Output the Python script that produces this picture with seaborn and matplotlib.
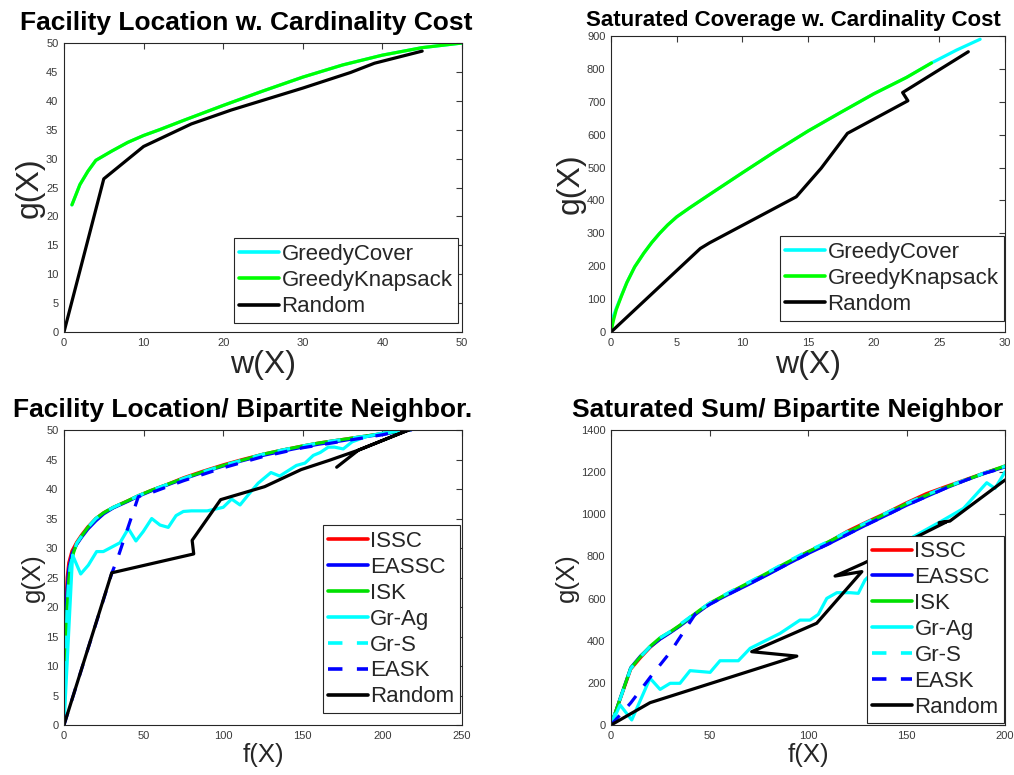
import matplotlib
matplotlib.use("Agg")
import matplotlib.pyplot as plt
import seaborn as sns
import numpy as np

# ---------------- data ----------------
# Panel 1: Facility Location w. Cardinality Cost
fl_card_greedy_x = [1, 2, 3, 4, 5, 6, 8, 10, 12, 15, 20, 25, 30, 35, 40, 45, 50]
fl_card_cover_y = [22, 25.5, 27.8, 29.7, 30.5, 31.3, 32.8, 34, 35, 36.6, 39.2, 41.7, 44.1, 46.2, 47.9, 49.2, 50]
fl_card_knap_y = [22, 25.5, 27.8, 29.7, 30.5, 31.3, 32.8, 34, 35, 36.6, 39.2, 41.7, 44.1, 46.2, 47.9, 49.2, 50]
fl_card_rand_x = [0, 5, 10, 16, 21, 30, 36, 39, 45]
fl_card_rand_y = [0, 26.5, 32.1, 36, 38.4, 42.2, 44.9, 46.5, 48.6]

# Panel 2: Saturated Coverage w. Cardinality Cost
sc_cover_x = [0, 0.05, 0.15, 0.4, 0.8, 1.2, 1.8, 2.5, 3.1, 3.7, 4.3, 5, 6, 7.5, 10, 12.5, 15, 17.5, 20, 22.5, 24.4, 26.3, 28.1]
sc_cover_y = [0, 25, 45, 72, 112, 150, 198, 240, 272, 300, 325, 350, 378, 418, 484, 549, 611, 668, 724, 774, 818, 857, 890]
sc_knap_x = [0, 0.1, 0.2, 0.4, 0.8, 1.2, 1.8, 2.5, 3.1, 3.7, 4.3, 5, 6, 7.5, 10, 12.5, 15, 17.5, 20, 22.5, 24.4]
sc_knap_y = [0, 20, 38, 68, 110, 150, 198, 240, 272, 300, 325, 350, 378, 418, 484, 549, 611, 668, 724, 774, 818]
sc_rand_x = [0, 6.8, 7.5, 14.1, 16, 18, 22.6, 22.2, 27.2]
sc_rand_y = [0, 254, 271, 411, 498, 604, 703, 728, 852]

# Panel 3: Facility Location / Bipartite Neighbor.
flb_x = [0, 1, 2, 3, 4, 6, 8, 11, 15, 20, 25, 31, 40, 47, 55, 65, 75, 87, 100, 112, 125, 137, 148, 160, 175, 190, 200, 210, 218]
flb_issc_x = [0, 0.5, 1, 2, 3, 5, 8, 11, 15, 20, 25, 31, 40, 47, 55, 65, 75, 87, 100, 112, 125, 137, 148, 160, 175, 190, 200, 210, 218]
flb_issc_y = [0, 14, 20, 25, 27.5, 29.5, 31, 32.2, 33.6, 35, 36, 36.9, 38, 38.9, 39.8, 40.8, 41.9, 43, 44.1, 45, 45.9, 46.6, 47.2, 47.8, 48.4, 49, 49.4, 49.8, 50.1]
flb_eassc_y = [0, 9, 17, 23, 26.5, 29, 30.6, 31.8, 33.2, 34.6, 35.8, 36.8, 37.9, 38.8, 39.7, 40.7, 41.7, 42.8, 43.9, 44.8, 45.7, 46.4, 47, 47.6, 48.2, 48.9, 49.3, 49.7, 50]
flb_isk_y = [0, 12, 20, 24.5, 27, 29.2, 30.8, 32, 33.5, 35, 36, 36.9, 38, 38.9, 39.8, 40.8, 41.8, 42.9, 44, 44.9, 45.9, 46.6, 47.2, 47.8, 48.4, 49, 49.4, 49.8, 50.1]
flb_grs_y = [0, 12, 20, 24.5, 27, 29.2, 30.8, 32, 33.5, 35, 36, 36.9, 38, 38.9, 39.8, 40.8, 41.8, 42.9, 44, 44.9, 45.9, 46.6, 47.2, 47.8, 48.4, 49, 49.4, 49.8, 50.1]
flb_grag_x = [0, 5.4, 10.5, 15.3, 20.5, 24.7, 31, 35.2, 40.4, 45.2, 49.8, 55.1, 60.3, 65.5, 70.4, 75, 80, 90, 100, 105.3, 110.6, 116, 122, 130, 135.5, 146, 151.4, 156.6, 161, 166, 170, 175.4, 181, 190, 198.5, 217.3]
flb_grag_y = [0, 28.8, 25.6, 27.1, 29.4, 29.4, 30.3, 30.9, 33.3, 31.2, 32.8, 35, 33.9, 33.5, 35.5, 36.2, 36.3, 36.3, 36.9, 38.3, 37.3, 39.1, 41, 42.8, 42.2, 44, 44.4, 45.7, 46.2, 47.1, 47.1, 46.8, 48, 48.9, 49.4, 50.1]
flb_eask_x = [0, 30, 34, 46.7, 55, 75, 100, 125, 150, 175, 200, 212]
flb_eask_y = [0, 25.7, 28.5, 38.7, 39.4, 41.4, 43.6, 45.5, 47, 48.1, 49.2, 49.9]
flb_rand_x = [0, 30, 81.5, 80.5, 98.4, 126, 149, 167, 185, 217.3, 185, 171.3]
flb_rand_y = [0, 25.8, 29, 31.3, 38.2, 40.4, 43.3, 44.9, 46.6, 50.1, 46.6, 43.7]

# Panel 4: Saturated Sum / Bipartite Neighbor
ssb_x = [0, 10, 15, 20, 25, 30, 35, 40, 45, 50, 60, 70, 80, 90, 100, 110, 120, 130, 140, 150, 160, 170, 180, 190, 200]
ssb_issc_y = [0, 265, 320, 370, 410, 440, 472, 508, 542, 576, 626, 672, 720, 772, 822, 866, 920, 965, 1008, 1055, 1098, 1132, 1165, 1198, 1228]
ssb_eassc_y = [0, 272, 328, 372, 408, 438, 470, 505, 540, 574, 622, 668, 716, 766, 814, 858, 905, 952, 997, 1043, 1084, 1125, 1162, 1196, 1225]
ssb_isk_y = [0, 270, 325, 375, 415, 442, 474, 510, 545, 578, 628, 676, 725, 775, 822, 868, 915, 960, 1005, 1050, 1090, 1128, 1163, 1197, 1230]
ssb_grs_y = [0, 268, 324, 374, 414, 444, 478, 512, 546, 578, 630, 678, 727, 778, 826, 870, 918, 963, 1008, 1052, 1092, 1130, 1164, 1198, 1228]
ssb_eask_x = [0, 10, 20, 30, 43, 50, 60, 70, 80, 90, 100, 110, 120, 130, 140, 150, 160, 170, 180, 190, 200]
ssb_eask_y = [0, 105, 228, 345, 530, 572, 622, 670, 718, 766, 814, 858, 905, 952, 997, 1043, 1084, 1125, 1162, 1196, 1222]
ssb_grag_x = [0, 4.6, 10.5, 19.8, 24.9, 30, 35, 40.1, 50.3, 55.3, 64.6, 70.6, 85.8, 95.9, 101, 105.2, 109.5, 114.6, 121.4, 125.5, 128.9, 140, 153.5, 168.7, 178.9, 190.7, 194.9, 200]
ssb_grag_y = [0, 95, 24, 222, 169, 198, 198, 258, 250, 305, 305, 364, 435, 498, 498, 525, 601, 628, 628, 625, 688, 790, 894, 973, 1028, 1150, 1123, 1202]
ssb_rand_x = [0, 19.8, 94.3, 71.4, 104.4, 127.3, 113.7, 128.1, 157, 170, 166.5, 172, 200]
ssb_rand_y = [0, 106, 327, 348, 483, 728, 707, 767, 902, 963, 960, 968, 1163]

# ---------------- style ----------------
sns.set_style("white")
plt.rcParams['font.family'] = ['Liberation Sans', 'DejaVu Sans']

CYAN = '#00FFFF'
GREEN = '#00FF00'
GREEN2 = '#00E000'
RED = '#FF0000'
BLUE = '#0000FF'
BLACK = '#000000'
LW = 2.3
TICKC = '#3a3a3a'

fig = plt.figure(figsize=(10.14, 7.75), dpi=100)
ax1 = fig.add_axes([0.0631, 0.5716, 0.3925, 0.3729])
ax2 = fig.add_axes([0.6026, 0.5716, 0.3886, 0.3820])
ax3 = fig.add_axes([0.0631, 0.0645, 0.3925, 0.3806])
ax4 = fig.add_axes([0.6026, 0.0645, 0.3886, 0.3806])


def line(ax, x, y, color, label, dashed=False):
    l = sns.lineplot(x=x, y=y, ax=ax, color=color, linewidth=LW, label=label,
                     sort=False, estimator=None)
    if dashed:
        l.lines[-1].set_dashes((4, 4))
    return l


def style_axes(ax, xlim, ylim, xticks, yticks, xlabel, ylabel, lab_size, title,
               title_x, title_y, title_size):
    ax.set_xlim(*xlim)
    ax.set_ylim(*ylim)
    ax.set_xticks(xticks)
    ax.set_yticks(yticks)
    ax.tick_params(direction='in', length=4, width=0.8, top=True, right=True,
                   labelsize=8, colors=TICKC, labelcolor=TICKC, pad=4)
    for s in ax.spines.values():
        s.set_color('#262626')
        s.set_linewidth(0.8)
    ax.set_xlabel(xlabel, fontsize=lab_size, color='#262626', labelpad=2)
    ax.set_ylabel(ylabel, fontsize=lab_size, color='#262626', labelpad=1)
    ax.text(title_x, title_y, title, transform=ax.transAxes, ha='center',
            va='baseline', fontsize=title_size, fontweight='bold', color='black')


def legend(ax, anchor, spacing):
    leg = ax.legend(loc='lower right', bbox_to_anchor=anchor, borderaxespad=0,
                    fontsize=16, frameon=True, fancybox=False, framealpha=1,
                    edgecolor='#262626', handlelength=1.8, handletextpad=0.1,
                    labelspacing=spacing, borderpad=0.25)
    leg.get_frame().set_linewidth(0.8)
    for h in leg.get_lines():
        h.set_linewidth(LW + 0.3)
    return leg


# Panel 1
line(ax1, fl_card_greedy_x, fl_card_cover_y, CYAN, 'GreedyCover')
line(ax1, fl_card_greedy_x, fl_card_knap_y, GREEN, 'GreedyKnapsack')
line(ax1, fl_card_rand_x, fl_card_rand_y, BLACK, 'Random')
style_axes(ax1, (0, 50), (0, 50), range(0, 51, 10), range(0, 51, 5),
           'w(X)', 'g(X)', 23, 'Facility Location w. Cardinality Cost',
           0.4585, 1.045, 19)
legend(ax1, (0.99, 0.031), 0.24)

# Panel 2
line(ax2, sc_cover_x, sc_cover_y, CYAN, 'GreedyCover')
line(ax2, sc_knap_x, sc_knap_y, GREEN, 'GreedyKnapsack')
line(ax2, sc_rand_x, sc_rand_y, BLACK, 'Random')
style_axes(ax2, (0, 30), (0, 900), range(0, 31, 5), range(0, 901, 100),
           'w(X)', 'g(X)', 23, 'Saturated Coverage w. Cardinality Cost',
           0.462, 1.034, 16)
legend(ax2, (0.9975, 0.038), 0.24)

# Panel 3
line(ax3, flb_issc_x, flb_issc_y, RED, 'ISSC')
line(ax3, flb_issc_x, flb_eassc_y, BLUE, 'EASSC')
line(ax3, flb_x, flb_isk_y, GREEN2, 'ISK')
line(ax3, flb_grag_x, flb_grag_y, CYAN, 'Gr-Ag')
line(ax3, flb_x, flb_grs_y, CYAN, 'Gr-S', dashed=True)
line(ax3, flb_eask_x, flb_eask_y, BLUE, 'EASK', dashed=True)
line(ax3, flb_rand_x, flb_rand_y, BLACK, 'Random')
style_axes(ax3, (0, 250), (0, 50), range(0, 251, 50), range(0, 51, 5),
           'f(X)', 'g(X)', 18.5, 'Facility Location/ Bipartite Neighbor.',
           0.45, 1.045, 19)
legend(ax3, (0.995, 0.041), 0.22)

# Panel 4
line(ax4, ssb_x, ssb_issc_y, RED, 'ISSC')
line(ax4, ssb_x, ssb_eassc_y, BLUE, 'EASSC')
line(ax4, ssb_x, ssb_isk_y, GREEN2, 'ISK')
line(ax4, ssb_grag_x, ssb_grag_y, CYAN, 'Gr-Ag')
line(ax4, ssb_x, ssb_grs_y, CYAN, 'Gr-S', dashed=True)
line(ax4, ssb_eask_x, ssb_eask_y, BLUE, 'EASK', dashed=True)
line(ax4, ssb_rand_x, ssb_rand_y, BLACK, 'Random')
style_axes(ax4, (0, 200), (0, 1400), range(0, 201, 50), range(0, 1401, 200),
           'f(X)', 'g(X)', 18.5, 'Saturated Sum/ Bipartite Neighbor',
           0.449, 1.045, 19)
legend(ax4, (0.9975, 0.006), 0.22)

fig.savefig('out.png', dpi=100)
